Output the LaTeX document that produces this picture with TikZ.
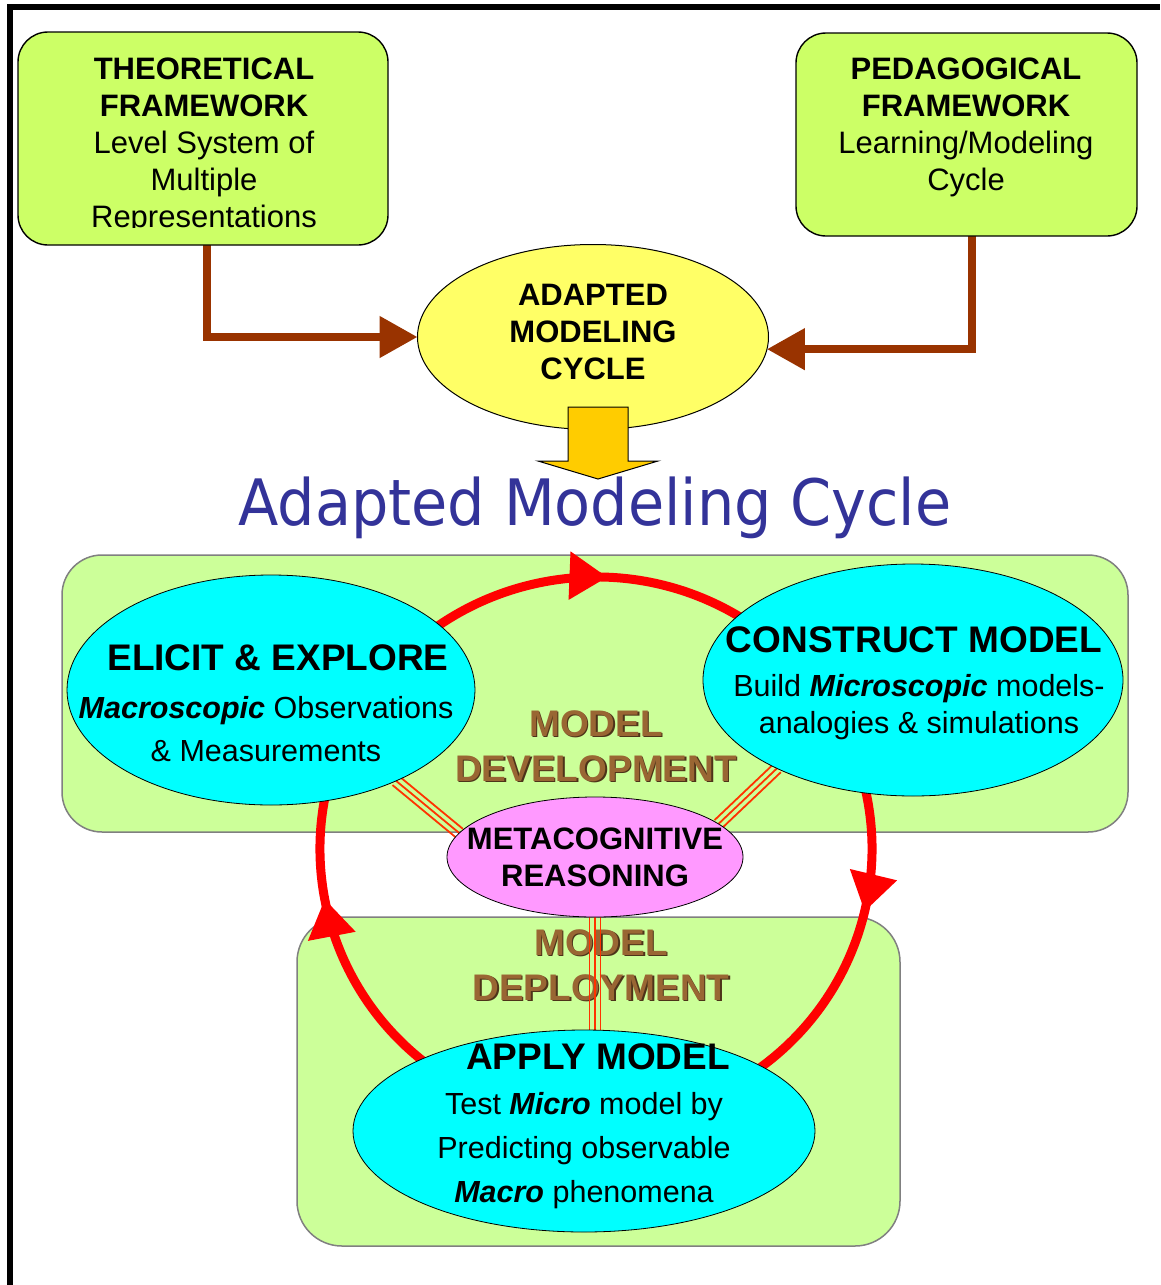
\documentclass[tikz,border=0pt]{standalone}
\usepackage{fontspec}
\usepackage{graphicx}
\setmainfont{Liberation Sans}
\newfontfamily\titlefont{DejaVu Sans}
\usetikzlibrary{shapes.geometric,arrows.meta,decorations.markings,calc}
\definecolor{boxgreen}{HTML}{CCFF66}
\definecolor{panelgreen}{HTML}{CCFF99}
\definecolor{adyellow}{HTML}{FFFF66}
\definecolor{arrowgold}{HTML}{FFCC00}
\definecolor{brownarrow}{HTML}{993300}
\definecolor{titleblue}{HTML}{333399}
\definecolor{browntext}{HTML}{996633}
\definecolor{brownshadow}{HTML}{4D3319}
\definecolor{metapink}{HTML}{FF99FF}
\definecolor{stagecyan}{HTML}{00FFFF}
\definecolor{linkred}{HTML}{FF3300}
\definecolor{cyclered}{HTML}{FF0000}
\definecolor{panelborder}{HTML}{808080}
\pgfdeclarelayer{back}
\pgfdeclarelayer{mid}
\pgfsetlayers{back,mid,main}
\begin{document}
\begin{tikzpicture}[x=1pt,y=-1pt,
  frameline/.style={line width=5.5pt,black},
  topbox/.style={rectangle,draw=black,line width=1.4pt,fill=boxgreen,rounded corners=30pt,inner sep=0pt,outer sep=0pt},
  boxtext/.style={align=center,font=\fontsize{31}{37}\selectfont,inner sep=0pt},
  adaptell/.style={ellipse,draw=black,line width=1pt,fill=adyellow,inner sep=0pt,outer sep=0pt},
  brarrow/.style={brownarrow,line width=8pt,-{Triangle[length=38pt,width=40pt]}},
  blockarrow/.style={draw=black,line width=1pt,fill=arrowgold},
  panel/.style={rectangle,draw=panelborder,line width=1.5pt,fill=panelgreen,rounded corners=40pt,inner sep=0pt,outer sep=0pt},
  stage/.style={ellipse,draw=black,line width=0.8pt,fill=stagecyan,inner sep=0pt,outer sep=0pt},
  metaell/.style={ellipse,draw=black,line width=0.8pt,fill=metapink,inner sep=0pt,outer sep=0pt},
  headtext/.style={font=\bfseries\fontsize{37}{40}\selectfont,inner sep=0pt},
  bodytext/.style={align=center,font=\fontsize{30.5}{43}\selectfont,inner sep=0pt},
  metatext/.style={align=center,font=\bfseries\fontsize{31}{37}\selectfont,inner sep=0pt},
  phase/.style={align=center,font=\bfseries\fontsize{37}{45}\selectfont,inner sep=0pt,text=browntext},
  phaseshadow/.style={phase,text=brownshadow},
  cycarrow/.style={cyclered,line width=9pt,postaction=decorate,
    decoration={markings,mark=at position #1 with {\arrow{Triangle[length=38pt,width=46pt]}}}},
  link/.style={linkred,line width=1.8pt},
]
\useasboundingbox (0,0) rectangle (1160,1285);
\begin{pgfonlayer}{back}
  \fill[white] (0,0) rectangle (1160,1285);
\end{pgfonlayer}

% outer frame
\draw[frameline] (10,1285) -- (10,7) -- (1160,7);

% top framework boxes
\node[topbox,minimum width=370pt,minimum height=213pt] (theo) at (203,138.5) {};
\node[topbox,minimum width=341pt,minimum height=203pt] (peda) at (966.5,134.5) {};
\begin{scope}
  \clip (18,32) rectangle (388,227);
  \node[boxtext] (theo-t) at (204,145.5) {\textbf{THEORETICAL}\\\textbf{FRAMEWORK}\\Level System of\\Multiple\\Representations};
\end{scope}
\node[boxtext] (peda-t) at (966,127) {\textbf{PEDAGOGICAL}\\\textbf{FRAMEWORK}\\Learning/Modeling\\Cycle};

% adapted modeling cycle ellipse
\node[adaptell,minimum width=351pt,minimum height=185pt] (adapt) at (593,337) {};
\node[metatext] (adapt-t) at (593,332) {ADAPTED\\MODELING\\CYCLE};

\begin{pgfonlayer}{mid}
  \draw[brarrow] ($(theo.south)+(4,0)$) |- (adapt.west);
  \draw[brarrow] ($(peda.south)+(5.5,0)$) |- (adapt.-4.3);
\end{pgfonlayer}

% block arrow and title
\draw[blockarrow] (568,407) -- (628,407) -- (628,461) -- (658,461) -- (598,479) -- (538,461) -- (568,461) -- cycle;
\node[font=\titlefont\fontsize{64}{64}\selectfont,text=titleblue,anchor=base,inner sep=0pt] (title) at (595,525) {\scalebox{0.92}[1]{Adapted Modeling Cycle}};

% panels
\begin{pgfonlayer}{back}
  \node[panel,minimum width=1066pt,minimum height=277pt] (devpanel) at (595,693.5) {};
  \node[panel,rounded corners=45pt,minimum width=603pt,minimum height=329pt] (deppanel) at (598.5,1081.5) {};
\end{pgfonlayer}

% stage ellipses
\node[stage,minimum width=408pt,minimum height=230pt] (elicit) at (271,690) {};
\node[stage,minimum width=420pt,minimum height=232pt] (construct) at (913,680) {};
\node[stage,minimum width=462pt,minimum height=202pt] (apply) at (584,1131) {};
\node[metaell,minimum width=296pt,minimum height=120pt] (meta) at (595,857) {};

% texts in ellipses
\node[headtext] (elicit-h) at (278,658) {ELICIT \& EXPLORE};
\node[bodytext] (elicit-b) at (266,729) {\textbf{\textit{Macroscopic}} Observations\\\& Measurements};
\node[headtext] (construct-h) at (914,640) {CONSTRUCT MODEL};
\node[bodytext,font=\fontsize{30.5}{37}\selectfont] (construct-b) at (919,707) {Build \textbf{\textit{Microscopic}} models-\\analogies \& simulations};
\node[headtext] (apply-h) at (598,1057) {APPLY MODEL};
\node[bodytext,font=\fontsize{30.5}{44}\selectfont] (apply-b) at (584,1151) {Test \textbf{\textit{Micro}} model by\\Predicting observable\\\textbf{\textit{Macro}} phenomena};
\node[metatext] (meta-t) at (595,857) {METACOGNITIVE\\REASONING};

\begin{pgfonlayer}{mid}
  % phase labels
  \node[phaseshadow] at (597.5,747.5) {MODEL\\DEVELOPMENT};
  \node[phase] (devlabel) at (596,746) {MODEL\\DEVELOPMENT};
  \node[phaseshadow] at (602.5,966.5) {MODEL\\DEPLOYMENT};
  \node[phase] (deplabel) at (601,965) {MODEL\\DEPLOYMENT};
  % cycle
  \coordinate (cc) at (596,849);
  \draw[cycarrow=0.52] ($(cc)+(150:276pt and 272pt)$) arc[start angle=150,end angle=30,x radius=276pt,y radius=272pt];
  \draw[cycarrow=0.48] ($(cc)+(30:276pt and 272pt)$) arc[start angle=30,end angle=-60,x radius=276pt,y radius=272pt];
  \draw[cycarrow=0.55] ($(cc)+(-120:276pt and 272pt)$) arc[start angle=-120,end angle=-210,x radius=276pt,y radius=272pt];
  % metacognitive links
  \foreach \s in {-1,0,1}{
    \draw[link,transform canvas={shift={(\s*-3.6pt,\s*-4.2pt)}}] (meta.170) -- (elicit.-36);
    \draw[link,transform canvas={shift={(\s*3.9pt,\s*-3.85pt)}}] (meta.15) -- (construct.-147);
    \draw[link,transform canvas={xshift=\s*5.5pt}] (meta.south) -- (meta.south |- apply.north);
  }
\end{pgfonlayer}
\end{tikzpicture}
\end{document}
